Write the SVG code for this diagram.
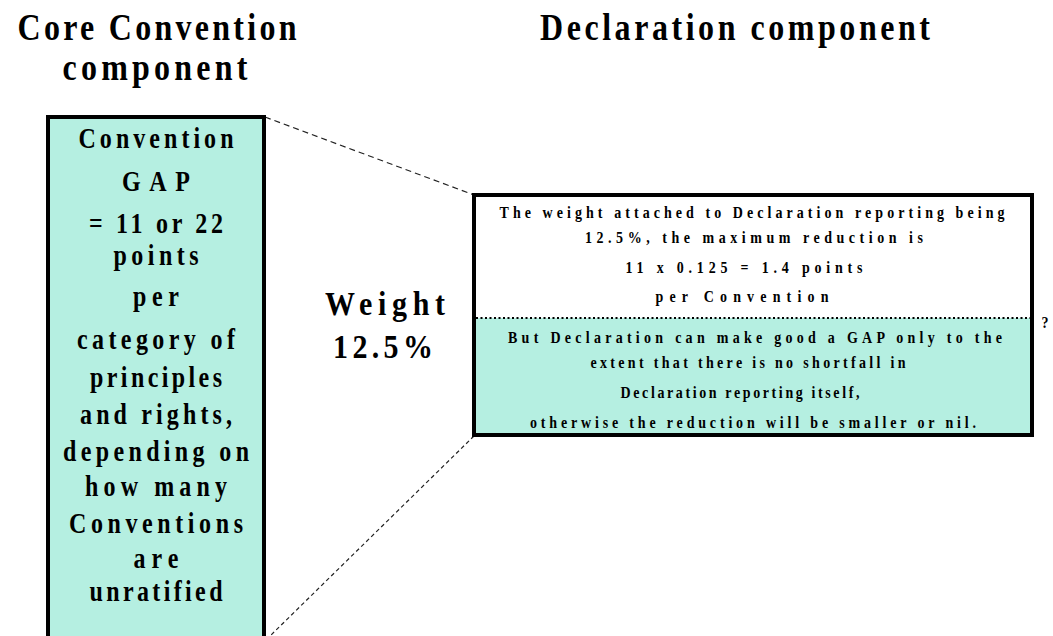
<svg xmlns="http://www.w3.org/2000/svg" width="1053" height="636" viewBox="0 0 1053 636">
<defs>
<style>
.t{font-family:"Liberation Serif","Times New Roman",serif;font-weight:bold;fill:#000;text-anchor:middle}
.title{font-size:32px}
.lb{font-size:24px}
.rb{font-size:14px}
.w{font-size:30px}
.box{stroke:#000;stroke-width:4}
.fill{fill:#b5efe1}
.dash{fill:none;stroke:#222;stroke-width:1.2}
</style>
</defs>
<rect width="1053" height="636" fill="#fff"/>
<g id="titles">
<text class="t title" transform="translate(157,40) scale(1,1.2)" textLength="279" lengthAdjust="spacing">Core Convention</text>
<text class="t title" transform="translate(155,80) scale(1,1.2)" textLength="185" lengthAdjust="spacing">component</text>
<text class="t title" transform="translate(735,40) scale(1,1.2)" textLength="390" lengthAdjust="spacing">Declaration component</text>
</g>
<g id="connectors">
<path class="dash" d="M265 117 L474 195" stroke-dasharray="6 4"/>
<path class="dash" d="M474 436 L268 638" stroke-dasharray="4 3"/>
</g>
<g id="core-box">
<rect class="box fill" x="48" y="117" width="216" height="540"/>
<text class="t lb" transform="translate(156,148) scale(1,1.25)" textLength="155" lengthAdjust="spacing">Convention</text>
<text class="t lb" transform="translate(156,191) scale(1,1.25)" textLength="68" lengthAdjust="spacing">GAP</text>
<text class="t lb" transform="translate(156,233) scale(1,1.25)" textLength="134" lengthAdjust="spacing">= 11 or 22</text>
<text class="t lb" transform="translate(156,265) scale(1,1.25)" textLength="85" lengthAdjust="spacing">points</text>
<text class="t lb" transform="translate(156,306) scale(1,1.25)" textLength="46" lengthAdjust="spacing">per</text>
<text class="t lb" transform="translate(156,349) scale(1,1.25)" textLength="158" lengthAdjust="spacing">category of</text>
<text class="t lb" transform="translate(156,387) scale(1,1.25)" textLength="132" lengthAdjust="spacing">principles</text>
<text class="t lb" transform="translate(156,424) scale(1,1.25)" textLength="152" lengthAdjust="spacing">and rights,</text>
<text class="t lb" transform="translate(156,461) scale(1,1.25)" textLength="186" lengthAdjust="spacing">depending on</text>
<text class="t lb" transform="translate(156,496) scale(1,1.25)" textLength="142" lengthAdjust="spacing">how many</text>
<text class="t lb" transform="translate(156,533) scale(1,1.25)" textLength="174" lengthAdjust="spacing">Conventions</text>
<text class="t lb" transform="translate(156,568) scale(1,1.25)" textLength="45" lengthAdjust="spacing">are</text>
<text class="t lb" transform="translate(156,601) scale(1,1.25)" textLength="133" lengthAdjust="spacing">unratified</text>
</g>
<g id="weight">
<text class="t w" transform="translate(385,315) scale(1,1.15)" textLength="120" lengthAdjust="spacing">Weight</text>
<text class="t w" transform="translate(383,358) scale(1,1.15)" textLength="100" lengthAdjust="spacing">12.5%</text>
</g>
<g id="declaration-box">
<rect x="474" y="195" width="558" height="123" fill="#fff"/>
<rect class="fill" x="474" y="318" width="558" height="117"/>
<line x1="476" y1="318" x2="1030" y2="318" stroke="#000" stroke-width="2" stroke-dasharray="2 2.5"/>
<rect class="box" x="474" y="195" width="558" height="240" fill="none"/>
<text class="t rb" transform="translate(752,218) scale(1,1.25)" textLength="505" lengthAdjust="spacing">The weight attached to Declaration reporting being</text>
<text class="t rb" transform="translate(754,243) scale(1,1.25)" textLength="338" lengthAdjust="spacing">12.5%, the maximum  reduction is</text>
<text class="t rb" transform="translate(744,273) scale(1,1.25)" textLength="237" lengthAdjust="spacing">11 x 0.125 = 1.4 points</text>
<text class="t rb" transform="translate(742,302) scale(1,1.25)" textLength="173" lengthAdjust="spacing">per Convention</text>
<text class="t rb" transform="translate(755,343) scale(1,1.25)" textLength="494" lengthAdjust="spacing">But Declaration can make good a GAP only to the</text>
<text class="t rb" transform="translate(748,368) scale(1,1.25)" textLength="315" lengthAdjust="spacing">extent that there is no shortfall in</text>
<text class="t rb" transform="translate(740,398) scale(1,1.25)" textLength="239" lengthAdjust="spacing">Declaration reporting itself,</text>
<text class="t rb" transform="translate(753,428) scale(1,1.25)" textLength="446" lengthAdjust="spacing">otherwise the reduction will be smaller or nil.</text>
</g>
<g id="note">
<text class="t rb" transform="translate(1045,328) scale(1,1.25)">?</text>
</g>
</svg>
